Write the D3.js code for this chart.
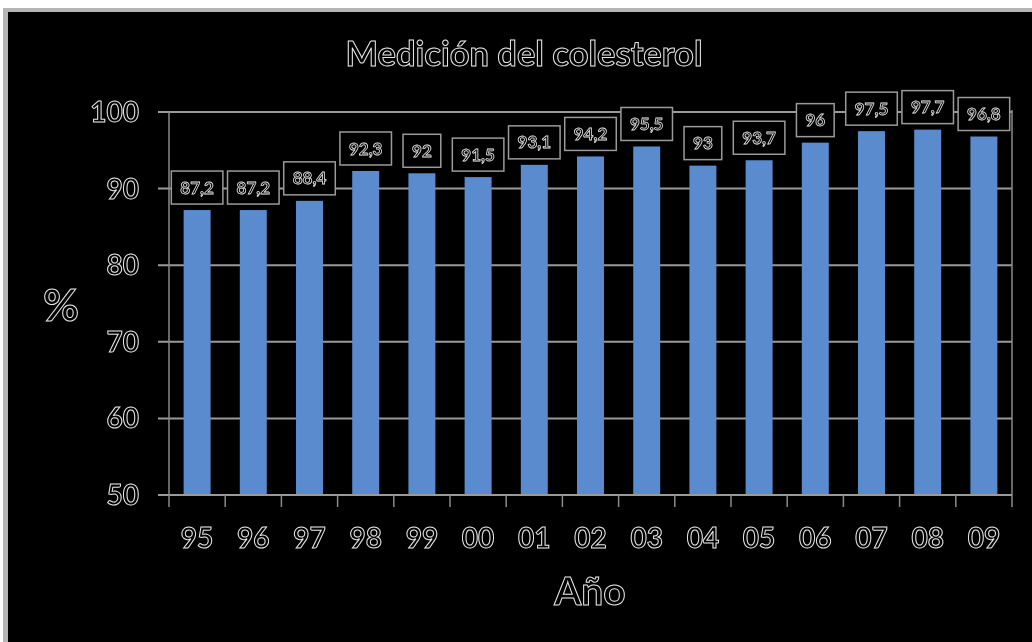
<!DOCTYPE html>
<html><head><meta charset="utf-8">
<script src="https://cdn.jsdelivr.net/npm/d3@7"></script>
<style>
html,body{margin:0;padding:0;background:#fff;}
svg{display:block;}
.ol{fill:#000;stroke:#e6e6e6;stroke-width:1px;font-family:Lato,"Open Sans",sans-serif;font-weight:bold;filter:url(#gray);}
</style></head>
<body>
<svg id="c" width="1032" height="642"></svg>
<script>
const years = ["95","96","97","98","99","00","01","02","03","04","05","06","07","08","09"];
const values = [87.2,87.2,88.4,92.3,92,91.5,93.1,94.2,95.5,93,93.7,96,97.5,97.7,96.8];
const yTicks = [50,60,70,80,90,100];
const title = "Medición del colesterol";
const xTitle = "Año";
const yTitle = "%";

const svg = d3.select("#c");
const f = svg.append("defs").append("filter").attr("id","gray")
  .attr("x","-10%").attr("y","-20%").attr("width","120%").attr("height","140%");
f.append("feColorMatrix").attr("type","saturate").attr("values","0");

// frame
svg.append("rect").attr("x",3).attr("y",8).attr("width",1029).attr("height",634).attr("fill","#b4b4b4");
svg.append("rect").attr("x",8).attr("y",12).attr("width",1024).attr("height",630).attr("fill","#000");

const x = d3.scaleBand().domain(years).range([169,1012]).paddingInner(0.52).paddingOuter(0.26);
const y = d3.scaleLinear().domain([50,100]).range([495,112]);
const step = x.step();
const x0 = 169;

// gridlines
svg.append("g").selectAll("line").data(yTicks.filter(d=>d>50)).join("line")
  .attr("x1",158).attr("x2",1012).attr("y1",d=>y(d)).attr("y2",d=>y(d))
  .attr("stroke","#9a9a9a").attr("stroke-width",2);
// y axis line
svg.append("line").attr("x1",x0).attr("x2",x0).attr("y1",y(100)).attr("y2",y(50)).attr("stroke","#8a8a8a").attr("stroke-width",1.5);
// right border
svg.append("line").attr("x1",1012).attr("x2",1012).attr("y1",y(100)-2).attr("y2",507).attr("stroke","#8a8a8a").attr("stroke-width",1.5);

// bars
svg.append("g").selectAll("rect").data(values).join("rect")
  .attr("x",(d,i)=>x(years[i])).attr("width",x.bandwidth())
  .attr("y",d=>y(d)).attr("height",d=>y(50)-y(d))
  .attr("fill","#5a8bcf");

// x axis line and ticks
svg.append("line").attr("x1",158).attr("x2",1012).attr("y1",y(50)).attr("y2",y(50)).attr("stroke","#9a9a9a").attr("stroke-width",2);
svg.append("g").selectAll("line").data(d3.range(years.length)).join("line")
  .attr("x1",i=>x0+i*step).attr("x2",i=>x0+i*step).attr("y1",y(50)).attr("y2",507)
  .attr("stroke","#8a8a8a").attr("stroke-width",1.5);

// y tick labels
svg.append("g").selectAll("text").data(yTicks).join("text").attr("class","ol")
  .attr("x",139).attr("y",d=>y(d)).attr("dy","0.36em").attr("text-anchor","end")
  .attr("font-size",28).text(d=>d);

// x tick labels
svg.append("g").selectAll("text").data(years).join("text").attr("class","ol")
  .attr("x",d=>x(d)+x.bandwidth()/2).attr("y",548).attr("text-anchor","middle")
  .attr("font-size",28).text(d=>d);

// data labels with boxes
const lg = svg.append("g").selectAll("g").data(values).join("g");
lg.each(function(d,i){
  const g = d3.select(this);
  const cx = x(years[i]) + x.bandwidth()/2;
  const bottom = y(d) - 6;
  const h = 33;
  const t = g.append("text").attr("class","ol").attr("font-size",17)
    .attr("text-anchor","middle").attr("x",cx).attr("y",bottom - h/2).attr("dy","0.36em")
    .style("stroke-width","0.8px")
    .text(String(d).replace(".",","));
  const w = t.node().getComputedTextLength() + 18;
  g.insert("rect","text").attr("x",cx-w/2).attr("y",bottom-h).attr("width",w).attr("height",h)
    .attr("fill","#000").attr("stroke","#9a9a9a").attr("stroke-width",1.5);
});

// titles
svg.append("text").attr("class","ol").attr("x",524).attr("y",66).attr("text-anchor","middle")
  .attr("font-size",34.5).text(title);
svg.append("text").attr("class","ol").attr("x",590).attr("y",605).attr("text-anchor","middle")
  .attr("font-size",39).text(xTitle);
svg.append("text").attr("class","ol").attr("x",61).attr("y",321).attr("text-anchor","middle")
  .attr("font-size",44).text(yTitle);
</script>
</body></html>
